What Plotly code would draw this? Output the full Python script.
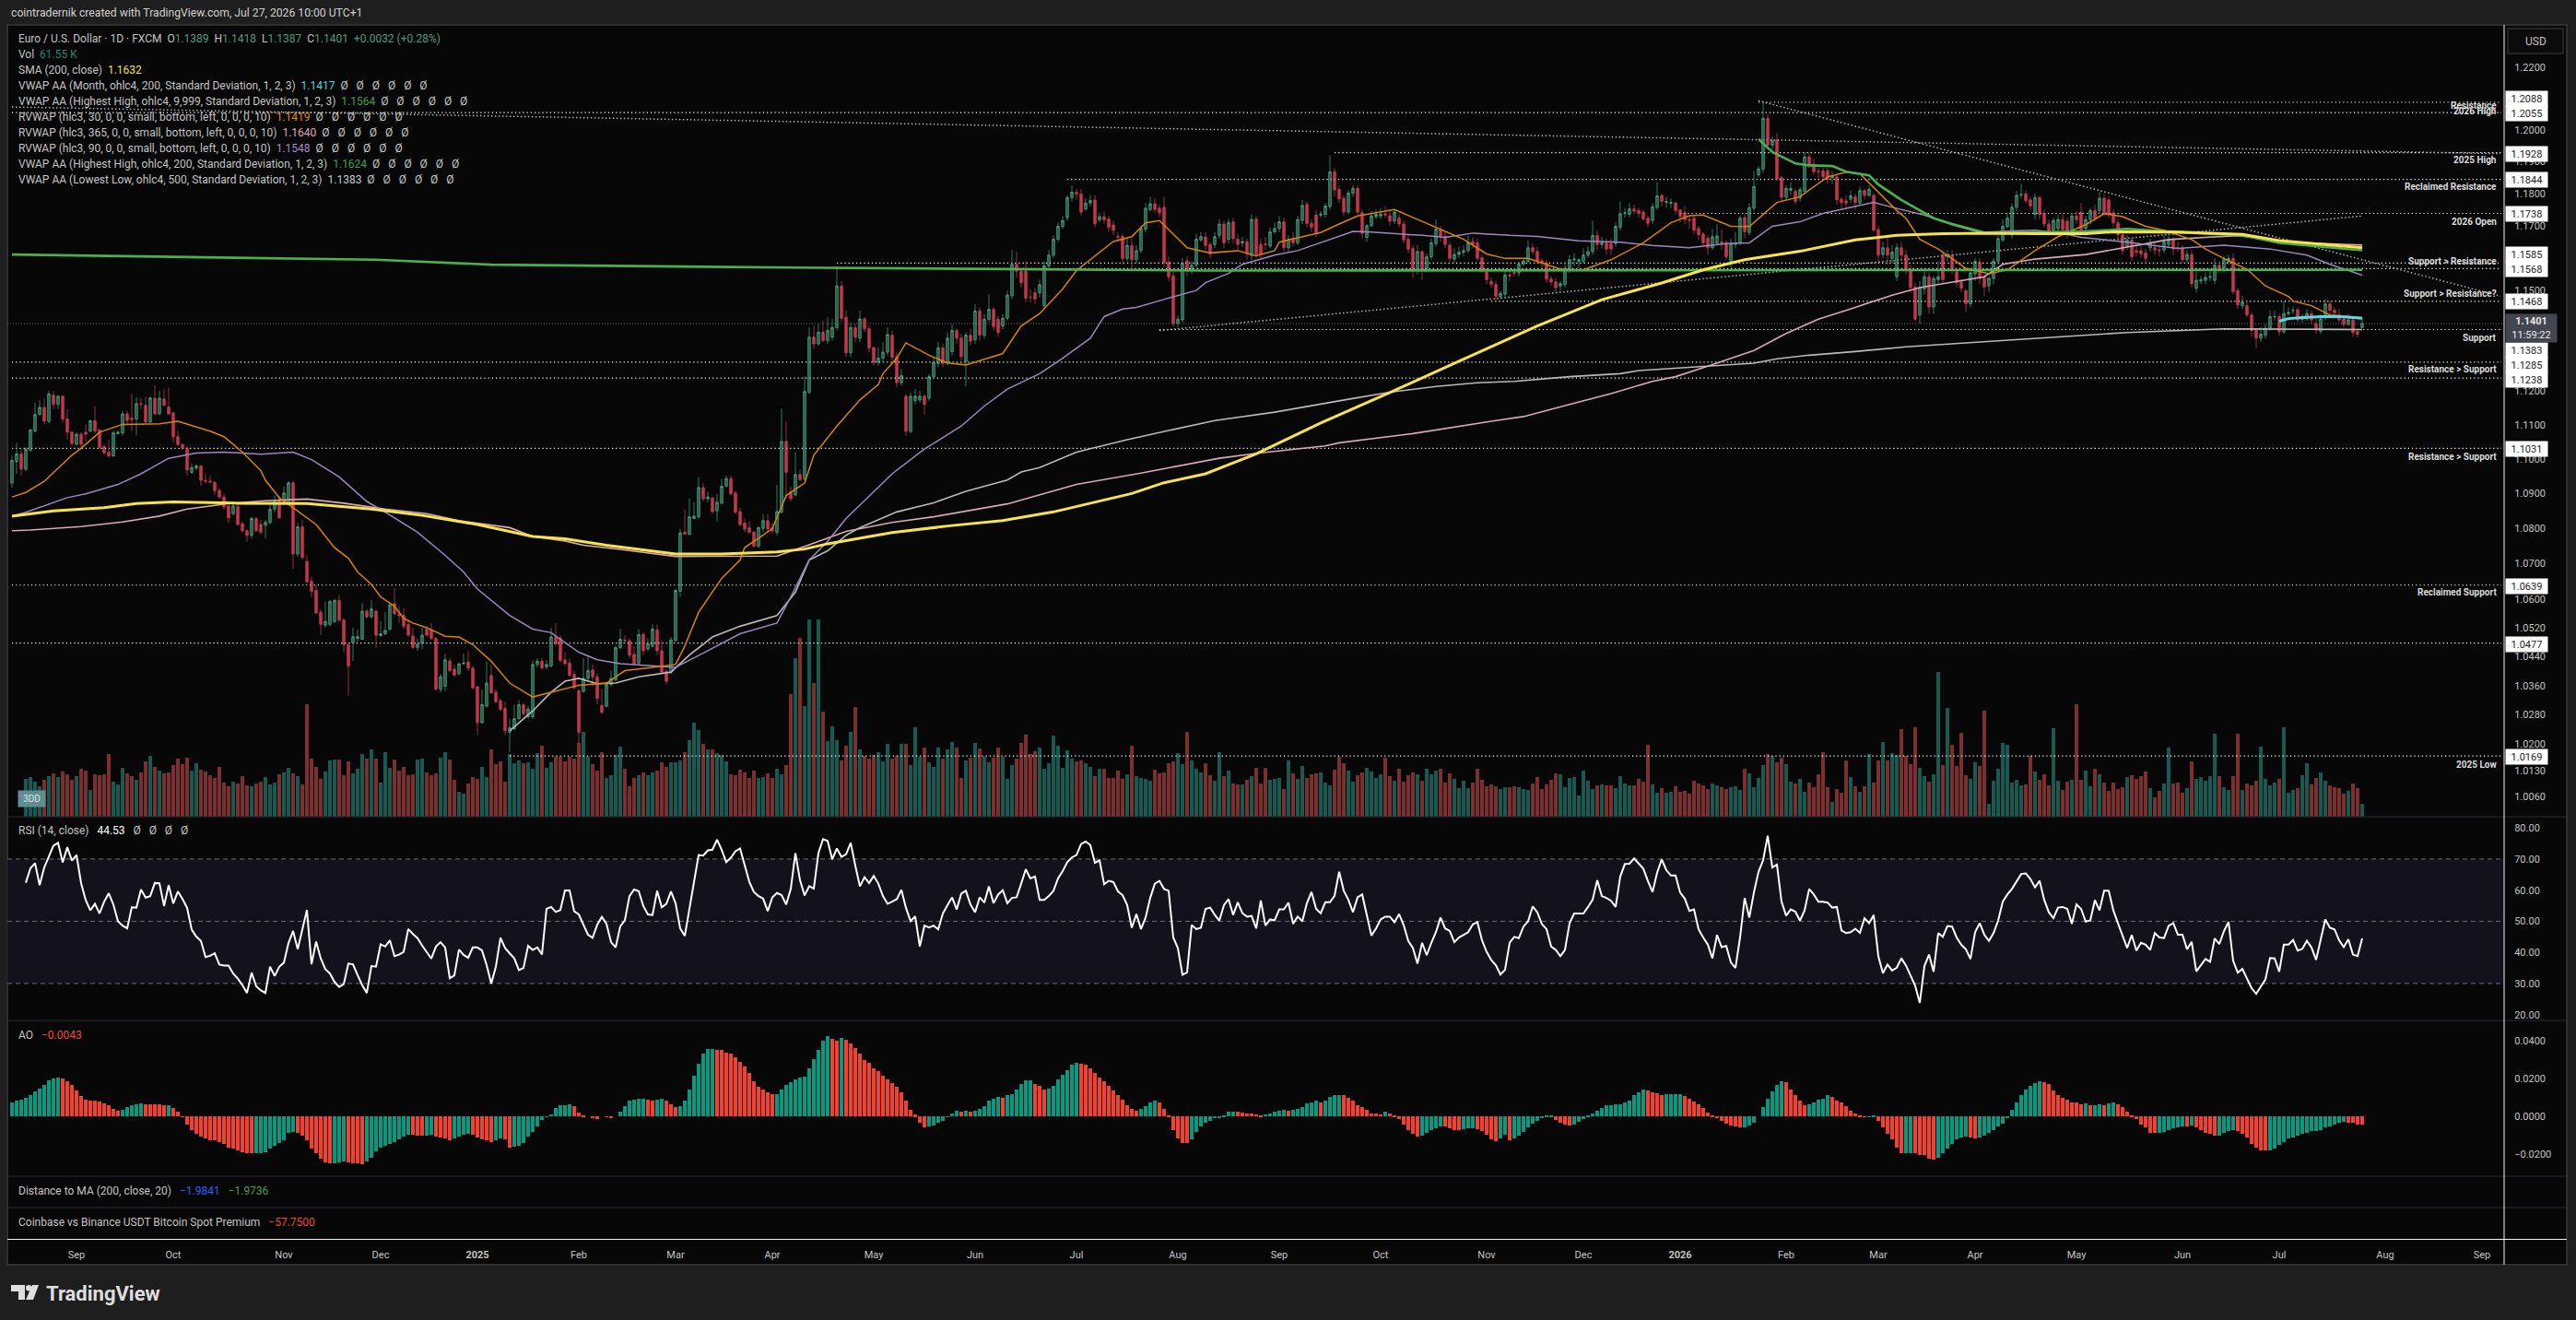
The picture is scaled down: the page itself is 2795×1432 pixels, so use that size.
import math
import plotly.graph_objects as go

W, H = 2795, 1432

opens = [
    1.0930,1.0993,1.1015,1.0970,1.1025,1.1081,1.1130,1.1151,1.1110,1.1187,
    1.1160,1.1184,1.1117,1.1078,1.1043,1.1072,1.1078,1.1081,1.1112,1.1085,
    1.1036,1.1020,1.1009,1.1074,1.1076,1.1132,1.1119,1.1117,1.1162,1.1157,
    1.1108,1.1178,1.1132,1.1176,1.1152,1.1135,1.1065,1.1042,1.1031,1.0961,
    1.0973,1.0980,1.0938,1.0935,1.0932,1.0909,1.0890,1.0864,1.0842,1.0862,
    1.0813,1.0793,1.0780,1.0828,1.0811,1.0809,1.0817,1.0855,1.0883,1.0872,
    1.0874,1.0931,1.0727,1.0804,1.0706,1.0650,1.0624,1.0563,1.0527,1.0529,
    1.0537,1.0596,1.0541,1.0473,1.0478,1.0490,1.0488,1.0566,1.0550,1.0566,
    1.0498,1.0503,1.0516,1.0587,1.0557,1.0554,1.0529,1.0497,1.0465,1.0476,
    1.0516,1.0514,1.0490,1.0350,1.0358,1.0428,1.0405,1.0393,1.0420,1.0425,
    1.0408,1.0357,1.0259,1.0304,1.0388,1.0342,1.0319,1.0298,1.0233,1.0243,
    1.0270,1.0308,1.0275,1.0275,1.0418,1.0427,1.0411,1.0414,1.0494,1.0491,
    1.0431,1.0422,1.0391,1.0346,1.0344,1.0380,1.0403,1.0384,1.0306,1.0304,
    1.0363,1.0376,1.0465,1.0486,1.0484,1.0446,1.0422,1.0501,1.0461,1.0468,
    1.0514,1.0456,1.0399,1.0397,1.0484,1.0622,1.0789,1.0783,1.0828,1.0833,
    1.0917,1.0885,1.0887,1.0850,1.0872,1.0921,1.0943,1.0901,1.0848,1.0815,
    1.0802,1.0789,1.0749,1.0800,1.0822,1.0802,1.0789,1.0846,1.1051,1.0905,
    1.0896,1.0955,1.0942,1.1196,1.1360,1.1340,1.1375,1.1350,1.1360,1.1389,
    1.1515,1.1420,1.1313,1.1389,1.1357,1.1415,1.1385,1.1329,1.1285,1.1297,
    1.1315,1.1366,1.1302,1.1224,1.1184,1.1081,1.1171,1.1173,1.1184,1.1178,
    1.1242,1.1281,1.1328,1.1283,1.1316,1.1380,1.1357,1.1288,1.1366,1.1352,
    1.1439,1.1366,1.1414,1.1444,1.1414,1.1394,1.1417,1.1485,1.1581,1.1560,
    1.1560,1.1481,1.1494,1.1494,1.1455,1.1576,1.1609,1.1658,1.1698,1.1725,
    1.1787,1.1804,1.1798,1.1752,1.1770,1.1780,1.1718,1.1728,1.1721,1.1702,
    1.1667,1.1667,1.1599,1.1639,1.1595,1.1623,1.1689,1.1750,1.1768,1.1754,
    1.1757,1.1587,1.1546,1.1401,1.1412,1.1592,1.1566,1.1578,1.1656,1.1665,
    1.1642,1.1642,1.1670,1.1705,1.1658,1.1712,1.1658,1.1647,1.1650,1.1608,
    1.1721,1.1642,1.1644,1.1637,1.1681,1.1691,1.1712,1.1632,1.1661,1.1647,
    1.1716,1.1766,1.1707,1.1733,1.1733,1.1735,1.1759,1.1868,1.1813,1.1785,
    1.1742,1.1801,1.1816,1.1740,1.1664,1.1700,1.1728,1.1730,1.1737,1.1731,
    1.1714,1.1724,1.1705,1.1658,1.1630,1.1564,1.1620,1.1569,1.1604,1.1645,
    1.1689,1.1667,1.1640,1.1597,1.1611,1.1618,1.1623,1.1651,1.1647,1.1601,
    1.1566,1.1529,1.1520,1.1483,1.1490,1.1548,1.1557,1.1555,1.1582,1.1590,
    1.1632,1.1620,1.1592,1.1585,1.1536,1.1527,1.1515,1.1520,1.1566,1.1595,
    1.1590,1.1590,1.1609,1.1620,1.1670,1.1642,1.1647,1.1645,1.1645,1.1695,
    1.1738,1.1735,1.1752,1.1747,1.1742,1.1723,1.1716,1.1757,1.1794,1.1772,
    1.1769,1.1770,1.1749,1.1740,1.1719,1.1723,1.1691,1.1674,1.1661,1.1632,
    1.1647,1.1650,1.1647,1.1590,1.1642,1.1647,1.1725,1.1679,1.1754,1.1858,
    1.1876,1.2037,1.1952,1.1969,1.1850,1.1788,1.1810,1.1807,1.1785,1.1807,
    1.1915,1.1892,1.1870,1.1871,1.1871,1.1849,1.1852,1.1782,1.1777,1.1782,
    1.1790,1.1770,1.1809,1.1794,1.1794,1.1688,1.1611,1.1632,1.1599,1.1543,
    1.1632,1.1609,1.1566,1.1512,1.1427,1.1506,1.1543,1.1451,1.1534,1.1611,
    1.1604,1.1609,1.1559,1.1527,1.1501,1.1461,1.1552,1.1588,1.1540,1.1515,
    1.1538,1.1590,1.1656,1.1698,1.1672,1.1757,1.1795,1.1799,1.1780,1.1735,
    1.1788,1.1738,1.1705,1.1686,1.1691,1.1719,1.1714,1.1686,1.1730,1.1742,
    1.1691,1.1719,1.1747,1.1747,1.1785,1.1780,1.1740,1.1709,1.1672,1.1637,
    1.1656,1.1623,1.1623,1.1616,1.1632,1.1632,1.1625,1.1625,1.1642,1.1656,
    1.1632,1.1632,1.1595,1.1611,1.1508,1.1530,1.1532,1.1541,1.1532,1.1578,
    1.1569,1.1588,1.1599,1.1501,1.1455,1.1455,1.1427,1.1382,1.1357,1.1366,
    1.1387,1.1421,1.1422,1.1376,1.1431,1.1440,1.1443,1.1414,1.1415,1.1431,
    1.1401,1.1378,1.1419,1.1460,1.1441,1.1427,1.1415,1.1398,1.1412,1.1377,1.1389,
]
closes = [
    1.0996,1.1015,1.0970,1.1029,1.1085,1.1130,1.1151,1.1110,1.1191,1.1160,
    1.1184,1.1117,1.1078,1.1045,1.1072,1.1043,1.1072,1.1112,1.1081,1.1033,
    1.1018,1.1009,1.1076,1.1078,1.1132,1.1112,1.1115,1.1162,1.1160,1.1108,
    1.1179,1.1132,1.1178,1.1157,1.1132,1.1065,1.1042,1.1031,1.0968,1.0975,
    1.0980,1.0938,1.0935,1.0933,1.0908,1.0890,1.0861,1.0830,1.0864,1.0811,
    1.0793,1.0780,1.0828,1.0793,1.0789,1.0817,1.0855,1.0877,1.0830,1.0901,
    1.0931,1.0727,1.0804,1.0717,1.0648,1.0622,1.0561,1.0529,1.0537,1.0593,
    1.0596,1.0541,1.0473,1.0414,1.0495,1.0495,1.0566,1.0550,1.0572,1.0499,
    1.0503,1.0512,1.0584,1.0559,1.0554,1.0524,1.0499,1.0465,1.0474,1.0499,
    1.0499,1.0490,1.0350,1.0384,1.0431,1.0401,1.0389,1.0420,1.0422,1.0408,
    1.0354,1.0259,1.0308,1.0367,1.0340,1.0316,1.0295,1.0237,1.0245,1.0270,
    1.0308,1.0283,1.0296,1.0418,1.0427,1.0408,1.0418,1.0494,1.0476,1.0429,
    1.0420,1.0388,1.0354,1.0233,1.0380,1.0401,1.0384,1.0325,1.0287,1.0363,
    1.0380,1.0465,1.0488,1.0484,1.0444,1.0420,1.0501,1.0456,1.0476,1.0516,
    1.0456,1.0397,1.0372,1.0486,1.0624,1.0787,1.0783,1.0833,1.0835,1.0917,
    1.0885,1.0890,1.0848,1.0875,1.0921,1.0943,1.0899,1.0846,1.0811,1.0798,
    1.0789,1.0749,1.0802,1.0822,1.0798,1.0793,1.0848,1.1051,1.0961,1.0885,
    1.0955,1.0940,1.1198,1.1360,1.1340,1.1375,1.1350,1.1380,1.1389,1.1515,
    1.1417,1.1313,1.1389,1.1360,1.1415,1.1385,1.1327,1.1285,1.1297,1.1315,
    1.1368,1.1300,1.1224,1.1245,1.1081,1.1184,1.1184,1.1184,1.1160,1.1242,
    1.1285,1.1328,1.1281,1.1357,1.1380,1.1357,1.1302,1.1366,1.1348,1.1439,
    1.1366,1.1414,1.1444,1.1392,1.1374,1.1417,1.1487,1.1581,1.1560,1.1525,
    1.1478,1.1480,1.1475,1.1519,1.1576,1.1609,1.1658,1.1698,1.1716,1.1787,
    1.1804,1.1798,1.1742,1.1770,1.1778,1.1706,1.1728,1.1718,1.1695,1.1686,
    1.1664,1.1599,1.1639,1.1595,1.1623,1.1691,1.1754,1.1768,1.1750,1.1740,
    1.1585,1.1543,1.1401,1.1414,1.1585,1.1564,1.1578,1.1658,1.1666,1.1639,
    1.1613,1.1666,1.1705,1.1647,1.1709,1.1660,1.1642,1.1651,1.1613,1.1719,
    1.1613,1.1613,1.1642,1.1681,1.1691,1.1712,1.1632,1.1658,1.1647,1.1719,
    1.1763,1.1707,1.1695,1.1676,1.1736,1.1761,1.1868,1.1811,1.1783,1.1742,
    1.1801,1.1816,1.1742,1.1676,1.1700,1.1730,1.1735,1.1736,1.1733,1.1714,
    1.1742,1.1705,1.1656,1.1628,1.1562,1.1620,1.1566,1.1604,1.1647,1.1689,
    1.1667,1.1642,1.1599,1.1611,1.1618,1.1623,1.1647,1.1642,1.1599,1.1564,
    1.1534,1.1520,1.1483,1.1492,1.1548,1.1546,1.1553,1.1582,1.1592,1.1632,
    1.1620,1.1592,1.1585,1.1536,1.1527,1.1510,1.1522,1.1569,1.1595,1.1597,
    1.1595,1.1609,1.1620,1.1670,1.1642,1.1647,1.1628,1.1628,1.1698,1.1737,
    1.1740,1.1752,1.1745,1.1738,1.1721,1.1707,1.1759,1.1792,1.1775,1.1775,
    1.1772,1.1747,1.1728,1.1719,1.1716,1.1686,1.1672,1.1647,1.1632,1.1666,
    1.1668,1.1647,1.1604,1.1645,1.1647,1.1723,1.1681,1.1756,1.1822,1.1877,
    1.2037,1.1952,1.1966,1.1846,1.1788,1.1816,1.1816,1.1775,1.1812,1.1915,
    1.1888,1.1868,1.1868,1.1852,1.1845,1.1855,1.1780,1.1772,1.1770,1.1793,
    1.1772,1.1809,1.1794,1.1813,1.1686,1.1609,1.1632,1.1609,1.1618,1.1632,
    1.1609,1.1566,1.1510,1.1414,1.1510,1.1543,1.1451,1.1538,1.1543,1.1534,
    1.1611,1.1562,1.1525,1.1508,1.1461,1.1555,1.1590,1.1538,1.1512,1.1538,
    1.1590,1.1660,1.1698,1.1723,1.1757,1.1794,1.1797,1.1778,1.1761,1.1787,
    1.1735,1.1705,1.1679,1.1716,1.1719,1.1688,1.1674,1.1730,1.1719,1.1686,
    1.1719,1.1747,1.1723,1.1785,1.1740,1.1737,1.1709,1.1672,1.1623,1.1656,
    1.1604,1.1618,1.1613,1.1599,1.1647,1.1625,1.1623,1.1649,1.1656,1.1628,
    1.1630,1.1595,1.1611,1.1522,1.1532,1.1534,1.1541,1.1543,1.1578,1.1566,
    1.1597,1.1599,1.1498,1.1457,1.1466,1.1427,1.1380,1.1357,1.1369,1.1387,
    1.1422,1.1422,1.1376,1.1431,1.1434,1.1441,1.1412,1.1415,1.1431,1.1412,
    1.1382,1.1415,1.1460,1.1441,1.1434,1.1412,1.1398,1.1412,1.1374,1.1369,1.1401,
]
highs = [
    1.1011,1.1047,1.1029,1.1033,1.1087,1.1165,1.1173,1.1178,1.1200,1.1200,
    1.1187,1.1187,1.1146,1.1080,1.1078,1.1078,1.1101,1.1114,1.1155,1.1087,
    1.1042,1.1056,1.1083,1.1083,1.1141,1.1141,1.1191,1.1182,1.1178,1.1182,
    1.1182,1.1216,1.1200,1.1205,1.1210,1.1137,1.1083,1.1045,1.1038,1.0988,
    1.0985,1.0982,1.0957,1.0953,1.0935,1.0916,1.0899,1.0877,1.0877,1.0873,
    1.0820,1.0798,1.0833,1.0833,1.0824,1.0824,1.0877,1.0894,1.0894,1.0920,
    1.0935,1.0935,1.0815,1.0824,1.0723,1.0663,1.0641,1.0572,1.0593,1.0598,
    1.0600,1.0611,1.0546,1.0478,1.0520,1.0515,1.0589,1.0572,1.0598,1.0572,
    1.0538,1.0563,1.0589,1.0630,1.0580,1.0575,1.0542,1.0520,1.0490,1.0520,
    1.0525,1.0533,1.0495,1.0392,1.0448,1.0435,1.0418,1.0422,1.0448,1.0456,
    1.0414,1.0358,1.0350,1.0426,1.0418,1.0350,1.0325,1.0316,1.0270,1.0308,
    1.0320,1.0314,1.0305,1.0430,1.0435,1.0435,1.0430,1.0520,1.0533,1.0499,
    1.0452,1.0435,1.0401,1.0350,1.0435,1.0443,1.0418,1.0393,1.0350,1.0367,
    1.0401,1.0469,1.0516,1.0499,1.0490,1.0469,1.0516,1.0507,1.0490,1.0529,
    1.0529,1.0486,1.0405,1.0494,1.0628,1.0798,1.0853,1.0886,1.0874,1.0948,
    1.0930,1.0905,1.0890,1.0899,1.0943,1.0952,1.0952,1.0908,1.0859,1.0828,
    1.0820,1.0793,1.0806,1.0841,1.0841,1.0815,1.0925,1.1147,1.1110,1.0920,
    1.1020,1.0970,1.1243,1.1390,1.1395,1.1400,1.1410,1.1420,1.1415,1.1575,
    1.1530,1.1440,1.1405,1.1400,1.1440,1.1420,1.1395,1.1330,1.1330,1.1345,
    1.1390,1.1380,1.1312,1.1265,1.1190,1.1195,1.1205,1.1200,1.1190,1.1250,
    1.1300,1.1345,1.1340,1.1375,1.1400,1.1385,1.1370,1.1375,1.1385,1.1460,
    1.1450,1.1430,1.1490,1.1450,1.1425,1.1430,1.1500,1.1625,1.1620,1.1570,
    1.1590,1.1505,1.1510,1.1535,1.1590,1.1625,1.1670,1.1710,1.1730,1.1795,
    1.1825,1.1815,1.1815,1.1785,1.1795,1.1795,1.1740,1.1745,1.1730,1.1715,
    1.1680,1.1675,1.1665,1.1660,1.1640,1.1700,1.1770,1.1790,1.1785,1.1765,
    1.1790,1.1605,1.1560,1.1425,1.1600,1.1605,1.1590,1.1675,1.1680,1.1680,
    1.1650,1.1680,1.1720,1.1715,1.1720,1.1725,1.1675,1.1665,1.1660,1.1735,
    1.1730,1.1660,1.1665,1.1695,1.1710,1.1730,1.1725,1.1670,1.1680,1.1730,
    1.1780,1.1775,1.1720,1.1750,1.1745,1.1770,1.1920,1.1880,1.1825,1.1795,
    1.1810,1.1825,1.1825,1.1750,1.1705,1.1745,1.1750,1.1755,1.1760,1.1750,
    1.1750,1.1735,1.1715,1.1670,1.1640,1.1640,1.1625,1.1615,1.1660,1.1720,
    1.1700,1.1680,1.1650,1.1630,1.1635,1.1640,1.1670,1.1665,1.1660,1.1610,
    1.1570,1.1540,1.1530,1.1500,1.1560,1.1565,1.1570,1.1590,1.1600,1.1655,
    1.1645,1.1635,1.1600,1.1595,1.1545,1.1540,1.1530,1.1590,1.1610,1.1615,
    1.1600,1.1630,1.1635,1.1715,1.1685,1.1665,1.1660,1.1660,1.1710,1.1775,
    1.1755,1.1770,1.1765,1.1755,1.1750,1.1730,1.1770,1.1835,1.1800,1.1790,
    1.1785,1.1775,1.1750,1.1760,1.1730,1.1730,1.1700,1.1680,1.1670,1.1690,
    1.1705,1.1690,1.1655,1.1660,1.1680,1.1730,1.1735,1.1770,1.1870,1.1885,
    1.2088,1.2050,1.1980,1.1990,1.1855,1.1825,1.1835,1.1815,1.1820,1.1930,
    1.1930,1.1910,1.1880,1.1880,1.1880,1.1870,1.1860,1.1790,1.1795,1.1810,
    1.1800,1.1820,1.1815,1.1825,1.1800,1.1700,1.1650,1.1670,1.1640,1.1645,
    1.1650,1.1625,1.1580,1.1525,1.1530,1.1560,1.1555,1.1545,1.1590,1.1620,
    1.1625,1.1625,1.1570,1.1535,1.1505,1.1565,1.1600,1.1600,1.1550,1.1540,
    1.1600,1.1670,1.1720,1.1740,1.1770,1.1808,1.1830,1.1810,1.1790,1.1800,
    1.1790,1.1750,1.1720,1.1725,1.1735,1.1740,1.1725,1.1740,1.1745,1.1770,
    1.1730,1.1755,1.1765,1.1805,1.1800,1.1790,1.1750,1.1720,1.1690,1.1670,
    1.1665,1.1640,1.1640,1.1630,1.1660,1.1650,1.1640,1.1670,1.1675,1.1665,
    1.1650,1.1640,1.1625,1.1625,1.1560,1.1545,1.1555,1.1560,1.1600,1.1590,
    1.1605,1.1610,1.1615,1.1510,1.1485,1.1470,1.1435,1.1385,1.1390,1.1400,
    1.1440,1.1440,1.1430,1.1470,1.1450,1.1452,1.1450,1.1430,1.1445,1.1440,
    1.1420,1.1430,1.1475,1.1470,1.1450,1.1445,1.1425,1.1430,1.1420,1.1385,1.1418,
]
lows = [
    1.0917,1.0957,1.0952,1.0965,1.1022,1.1078,1.1128,1.1101,1.1105,1.1146,
    1.1146,1.1105,1.1056,1.1038,1.1038,1.1033,1.1051,1.1078,1.1076,1.1029,
    1.1011,1.1004,1.1006,1.1072,1.1069,1.1101,1.1081,1.1069,1.1146,1.1105,
    1.1105,1.1128,1.1128,1.1155,1.1128,1.1047,1.1038,1.1027,1.0952,1.0957,
    1.0968,1.0922,1.0930,1.0931,1.0895,1.0885,1.0855,1.0815,1.0838,1.0807,
    1.0787,1.0762,1.0771,1.0789,1.0784,1.0771,1.0811,1.0846,1.0828,1.0868,
    1.0872,1.0684,1.0719,1.0710,1.0645,1.0606,1.0558,1.0499,1.0520,1.0525,
    1.0533,1.0537,1.0452,1.0333,1.0427,1.0480,1.0486,1.0546,1.0546,1.0463,
    1.0495,1.0499,1.0512,1.0555,1.0533,1.0516,1.0495,1.0461,1.0455,1.0461,
    1.0495,1.0486,1.0346,1.0341,1.0346,1.0397,1.0384,1.0388,1.0418,1.0401,
    1.0350,1.0225,1.0256,1.0300,1.0338,1.0312,1.0291,1.0225,1.0179,1.0237,
    1.0266,1.0275,1.0270,1.0270,1.0410,1.0405,1.0405,1.0410,1.0470,1.0422,
    1.0418,1.0384,1.0350,1.0199,1.0341,1.0374,1.0358,1.0308,1.0283,1.0300,
    1.0358,1.0372,1.0461,1.0478,1.0435,1.0416,1.0418,1.0444,1.0455,1.0465,
    1.0444,1.0392,1.0363,1.0392,1.0482,1.0606,1.0782,1.0780,1.0826,1.0828,
    1.0877,1.0875,1.0842,1.0820,1.0868,1.0917,1.0894,1.0842,1.0806,1.0789,
    1.0784,1.0745,1.0745,1.0789,1.0789,1.0785,1.0780,1.0842,1.0887,1.0877,
    1.0892,1.0935,1.0938,1.1190,1.1325,1.1335,1.1345,1.1340,1.1350,1.1380,
    1.1405,1.1300,1.1300,1.1345,1.1345,1.1375,1.1315,1.1275,1.1275,1.1285,
    1.1305,1.1290,1.1210,1.1215,1.1067,1.1075,1.1160,1.1165,1.1130,1.1170,
    1.1235,1.1270,1.1270,1.1275,1.1305,1.1340,1.1290,1.1213,1.1335,1.1340,
    1.1350,1.1355,1.1405,1.1380,1.1360,1.1385,1.1410,1.1475,1.1540,1.1510,
    1.1465,1.1465,1.1460,1.1480,1.1445,1.1565,1.1600,1.1650,1.1690,1.1715,
    1.1775,1.1780,1.1730,1.1745,1.1760,1.1695,1.1710,1.1705,1.1680,1.1670,
    1.1650,1.1580,1.1590,1.1565,1.1585,1.1615,1.1680,1.1745,1.1740,1.1725,
    1.1575,1.1530,1.1392,1.1392,1.1405,1.1545,1.1550,1.1570,1.1650,1.1625,
    1.1600,1.1630,1.1660,1.1630,1.1645,1.1645,1.1625,1.1635,1.1595,1.1595,
    1.1600,1.1600,1.1625,1.1630,1.1675,1.1680,1.1620,1.1620,1.1635,1.1640,
    1.1705,1.1695,1.1680,1.1665,1.1725,1.1725,1.1750,1.1790,1.1770,1.1730,
    1.1735,1.1790,1.1735,1.1660,1.1650,1.1695,1.1720,1.1722,1.1725,1.1700,
    1.1705,1.1695,1.1645,1.1615,1.1540,1.1550,1.1535,1.1555,1.1595,1.1635,
    1.1650,1.1630,1.1590,1.1585,1.1600,1.1605,1.1615,1.1630,1.1590,1.1555,
    1.1520,1.1510,1.1470,1.1475,1.1480,1.1530,1.1545,1.1545,1.1575,1.1585,
    1.1610,1.1585,1.1570,1.1525,1.1515,1.1495,1.1500,1.1510,1.1555,1.1575,
    1.1570,1.1585,1.1600,1.1610,1.1625,1.1630,1.1610,1.1610,1.1635,1.1685,
    1.1725,1.1725,1.1735,1.1725,1.1715,1.1695,1.1705,1.1750,1.1760,1.1755,
    1.1755,1.1735,1.1710,1.1705,1.1690,1.1675,1.1655,1.1635,1.1610,1.1625,
    1.1640,1.1625,1.1595,1.1570,1.1630,1.1640,1.1660,1.1670,1.1745,1.1850,
    1.1865,1.1945,1.1930,1.1840,1.1775,1.1780,1.1795,1.1765,1.1775,1.1800,
    1.1880,1.1860,1.1845,1.1840,1.1830,1.1830,1.1765,1.1755,1.1750,1.1770,
    1.1750,1.1765,1.1780,1.1790,1.1680,1.1590,1.1600,1.1580,1.1585,1.1530,
    1.1595,1.1550,1.1495,1.1410,1.1400,1.1490,1.1430,1.1430,1.1520,1.1520,
    1.1590,1.1550,1.1510,1.1495,1.1435,1.1450,1.1530,1.1520,1.1485,1.1495,
    1.1520,1.1580,1.1650,1.1690,1.1660,1.1745,1.1785,1.1770,1.1750,1.1720,
    1.1720,1.1695,1.1670,1.1670,1.1680,1.1680,1.1660,1.1675,1.1705,1.1675,
    1.1675,1.1705,1.1715,1.1735,1.1730,1.1725,1.1695,1.1660,1.1610,1.1625,
    1.1590,1.1605,1.1600,1.1585,1.1620,1.1610,1.1605,1.1615,1.1630,1.1610,
    1.1620,1.1585,1.1585,1.1510,1.1495,1.1520,1.1520,1.1530,1.1520,1.1555,
    1.1555,1.1580,1.1490,1.1445,1.1445,1.1420,1.1360,1.1327,1.1345,1.1355,
    1.1380,1.1410,1.1365,1.1370,1.1425,1.1430,1.1405,1.1405,1.1410,1.1400,
    1.1370,1.1370,1.1410,1.1430,1.1425,1.1405,1.1390,1.1395,1.1360,1.1360,1.1387,
]

# volume in thousands
volume = [
    181,190,168,146,176,194,207,190,216,203,176,194,229,220,128,203,198,203,300,168,
    154,234,207,194,176,212,265,291,238,220,207,212,247,278,251,282,220,256,225,216,
    198,185,238,163,146,168,159,194,150,146,159,168,190,154,163,203,212,234,207,194,
    154,537,278,238,181,216,269,273,273,198,265,207,229,300,278,322,278,163,309,234,
    273,220,238,198,203,273,278,212,198,207,282,309,273,176,119,110,159,190,181,238,
    190,322,251,265,168,300,256,269,256,260,229,304,340,234,260,287,287,265,287,278,
    353,405,287,251,220,309,185,198,295,335,229,146,185,198,212,
    199,211,219,259,236,259,259,267,308,365,449,413,348,322,320,303,296,264,202,197,
    224,211,185,219,185,188,205,185,228,202,247,586,757,853,527,942,637,942,502,360,
    431,365,267,339,404,524,320,291,279,296,308,264,348,277,291,348,348,247,425,288,
    329,259,236,329,277,320,356,332,185,270,281,351,325,288,259,281,329,288,180,247,
    277,351,390,300,312,329,228,255,387,339,233,317,277,264,267,255,236,193,228,228,
    185,185,219,180,202,339,193,185,180,171,224,205,211,255,264,303,250,404,267,228,
    211,255,197,171,308,193,219,157,154,154,175,193,233,157,233,175,180,185,132,267,
    205,180,241,185,202,205,211,161,149,224,286,255,219,166,197,211,233,216,185,202,
    281,193,171,228,166,197,211,202,171,228,202,219,228,161,205,180,135,171,135,161,
    228,175,146,154,144,132,140,
    142,144,140,132,127,157,188,132,154,175,205,202,140,185,188,101,219,171,132,149,
    154,149,149,137,193,157,149,149,180,166,342,154,113,135,113,118,144,118,123,110,
    171,157,149,132,157,149,140,132,140,144,127,228,205,140,185,247,298,289,259,281,
    250,166,157,180,118,163,140,202,308,140,70,132,113,267,188,144,118,144,298,163,
    267,356,267,303,294,418,289,250,426,233,193,166,202,690,247,519,342,241,401,197,
    180,259,241,505,62,171,228,351,342,163,175,149,154,289,216,175,202,149,421,171,
    127,166,175,536,175,219,144,228,202,163,123,163,132,140,188,197,180,193,216,135,
    92,123,157,329,157,163,113,135,264,180,188,171,193,395,193,140,127,193,395,127,
    157,149,171,334,180,149,163,180,426,113,127,135,197,255,154,185,211,171,149,140,
    135,110,123,157,135,62,
]

rsi = [
    62.4,67.0,68.7,61.6,67.3,71.1,74.3,75.2,68.9,73.8,69.5,71.3,62.2,56.8,53.5,55.6,52.5,56.3,59.0,55.4,
    50.0,48.6,47.7,54.5,54.4,60.2,57.6,58.1,62.3,62.2,54.9,61.6,55.7,59.6,57.2,54.3,47.3,45.1,43.7,38.5,
    38.9,39.7,36.1,35.8,35.8,33.2,31.6,29.5,27.0,33.5,29.1,27.8,27.0,35.4,32.4,35.4,36.7,43.0,46.9,41.0,
    47.3,53.6,36.2,43.5,38.1,34.6,33.2,30.5,28.9,29.8,36.4,36.2,32.7,29.5,27.0,35.6,35.4,42.6,41.9,43.9,
    38.8,39.3,40.2,47.5,45.9,44.6,42.2,39.9,38.0,41.9,43.3,41.6,31.7,32.6,40.9,39.2,38.3,41.6,41.6,40.6,
    35.9,30.0,35.4,44.7,41.4,39.7,38.1,34.3,35.0,42.1,40.8,41.6,39.3,54.0,54.6,53.0,53.6,59.9,59.9,53.2,
    52.2,48.9,45.7,44.7,48.9,51.4,49.2,43.3,41.6,48.4,50.3,58.1,60.2,59.7,54.9,52.2,
    52.0,59.8,54.5,55.6,59.6,55.8,47.7,45.3,54.0,63.8,71.3,71.1,72.8,73.0,76.2,73.0,69.0,70.4,72.5,73.4,
    68.4,62.7,59.4,58.1,57.3,53.3,57.7,59.1,58.4,55.4,60.4,71.9,63.2,58.3,61.3,60.5,71.9,76.4,75.8,69.9,
    73.4,70.7,71.5,75.2,67.9,61.2,64.2,62.3,64.6,62.1,58.1,55.6,56.3,57.1,60.1,54.3,50.0,51.6,41.9,48.6,
    48.0,48.6,47.4,52.5,55.2,57.7,53.8,58.9,59.8,55.4,52.9,57.7,56.0,61.2,55.8,58.6,60.0,55.8,57.5,57.7,
    62.1,66.7,63.8,64.4,56.9,56.9,58.1,59.8,63.8,66.1,69.0,70.5,71.3,74.8,75.6,74.5,68.8,69.6,61.9,63.0,
    62.6,59.6,58.4,55.2,47.9,52.3,47.5,51.2,57.5,62.1,63.0,60.4,59.8,44.8,41.4,32.8,33.6,48.8,47.5,47.9,
    54.0,54.4,52.1,50.2,55.2,57.1,52.0,56.1,52.6,51.5,51.7,47.7,56.7,48.6,50.6,50.3,53.8,53.8,56.0,49.2,
    51.5,50.0,55.8,59.4,54.0,52.6,56.1,56.1,58.2,65.9,59.8,56.9,52.9,57.7,58.6,51.7,45.4,47.7,50.6,51.5,
    51.5,49.7,52.3,48.8,43.7,41.4,36.4,43.1,39.1,43.1,46.5,51.2,47.7,46.9,43.3,44.8,45.7,46.5,49.0,49.7,
    43.9,40.2,37.6,35.9,32.9,34.4,
    43.1,45.0,44.6,48.3,50.0,54.8,52.9,49.1,47.5,41.9,40.8,38.8,40.8,49.4,52.5,52.5,52.5,54.6,56.9,63.2,
    58.1,57.5,56.6,54.6,64.4,68.4,68.5,70.2,68.4,66.9,62.9,59.4,65.6,69.9,66.4,64.7,64.7,59.2,57.3,53.3,
    53.8,47.4,44.8,42.5,38.1,45.6,41.7,42.1,36.8,35.0,44.8,57.5,51.2,59.2,65.9,69.6,77.5,67.3,68.2,56.3,
    51.8,53.8,53.1,50.2,53.5,60.4,58.6,56.3,56.3,56.0,54.4,54.6,47.1,46.2,46.5,47.6,46.3,51.0,49.4,52.0,
    38.8,33.3,36.1,34.2,35.1,38.1,35.8,32.4,29.3,23.8,35.6,39.3,33.8,46.2,45.0,48.5,48.3,44.8,42.5,41.0,
    37.9,46.5,49.4,45.7,43.7,46.2,50.2,56.3,58.6,60.4,62.7,65.2,65.4,63.6,60.9,63.0,56.9,52.9,51.0,54.4,
    54.6,54.0,49.2,55.4,54.0,49.9,50.3,56.8,53.5,59.8,59.8,53.5,49.4,45.4,41.4,45.6,40.6,43.1,42.5,40.8,
    46.2,44.8,44.6,48.5,49.4,45.7,45.7,41.0,43.4,33.9,35.9,37.9,37.0,44.5,42.7,46.8,49.8,37.3,33.5,34.7,
    31.6,28.5,26.7,28.9,31.3,38.2,38.1,33.8,42.5,42.5,44.0,40.6,41.1,43.7,41.6,37.6,44.2,50.6,47.9,47.4,
    43.9,41.7,44.2,39.3,38.8,44.53,
]

ao = [
    .0075,.0082,.0091,.0098,.0115,.0132,.0149,.0168,.0193,.0200,.0208,.0202,.0188,.0168,.0140,.0109,.0091,.0084,.0082,.0079,
    .0068,.0059,.0038,.0030,.0036,.0047,.0057,.0066,.0070,.0066,.0064,.0063,.0062,.0057,.0059,.0045,.0023,-.0003,-.0045,-.0075,
    -.0095,-.0106,-.0120,-.0125,-.0129,-.0138,-.0147,-.0165,-.0174,-.0183,-.0192,-.0195,-.0196,-.0195,-.0194,-.0192,-.0174,-.0156,-.0143,-.0129,
    -.0088,-.0084,-.0088,-.0102,-.0129,-.0170,-.0195,-.0227,-.0243,-.0249,-.0248,-.0245,-.0242,-.0245,-.0249,-.0250,-.0254,-.0242,-.0222,-.0184,
    -.0165,-.0156,-.0145,-.0138,-.0124,-.0106,-.0097,-.0098,-.0102,-.0104,-.0103,-.0100,-.0109,-.0115,-.0120,-.0129,-.0120,-.0106,-.0097,-.0095,
    -.0098,-.0111,-.0124,-.0125,-.0138,-.0125,-.0120,-.0122,-.0165,-.0161,-.0159,-.0143,-.0106,-.0084,-.0052,-.0021,-.0004,.0011,.0045,.0059,
    .0061,.0062,.0055,.0020,.0002,.0000,-.0009,-.0016,.0000,-.0002,-.0012,.0000,.0027,.0056,.0086,.0089,
    .0092,.0093,.0087,.0086,.0087,.0095,.0086,.0063,.0050,.0053,.0082,.0143,.0216,.0279,.0332,.0357,.0358,.0354,.0352,.0340,
    .0332,.0317,.0292,.0264,.0229,.0189,.0158,.0141,.0126,.0118,.0119,.0143,.0168,.0183,.0195,.0206,.0212,.0254,.0307,.0355,
    .0403,.0426,.0411,.0405,.0417,.0407,.0388,.0363,.0332,.0298,.0283,.0258,.0239,.0216,.0195,.0176,.0158,.0126,.0082,.0034,
    .0008,-.0034,-.0061,-.0056,-.0048,-.0036,-.0023,-.0004,.0015,.0031,.0027,.0028,.0027,.0029,.0038,.0052,.0082,.0095,.0101,.0098,
    .0111,.0120,.0143,.0172,.0191,.0192,.0172,.0162,.0143,.0149,.0164,.0197,.0222,.0248,.0273,.0283,.0279,.0275,.0256,.0229,
    .0206,.0187,.0162,.0139,.0111,.0088,.0057,.0038,.0031,.0040,.0053,.0073,.0082,.0076,.0042,.0004,-.0074,-.0118,-.0141,-.0142,
    -.0124,-.0084,-.0055,-.0036,-.0023,-.0011,-.0005,.0006,.0023,.0027,.0023,.0019,.0017,.0015,.0011,.0006,.0011,.0013,.0025,.0029,
    .0033,.0029,.0034,.0040,.0050,.0069,.0076,.0082,.0076,.0082,.0103,.0111,.0112,.0111,.0098,.0086,.0061,.0048,.0034,.0017,
    .0013,.0011,.0023,.0015,.0006,-.0013,-.0042,-.0071,-.0095,-.0109,-.0105,-.0090,-.0073,-.0065,-.0052,-.0055,-.0065,-.0074,-.0075,-.0067,
    -.0065,-.0064,-.0067,-.0080,-.0099,-.0122,-.0130,-.0118,-.0099,
    -.0128,-.0118,-.0103,-.0084,-.0061,-.0038,-.0023,-.0006,.0002,.0003,-.0017,-.0036,-.0044,-.0050,-.0042,-.0029,-.0013,.0006,.0015,.0029,
    .0044,.0057,.0061,.0065,.0066,.0073,.0086,.0111,.0130,.0141,.0136,.0126,.0122,.0115,.0116,.0117,.0118,.0120,.0109,.0092,
    .0078,.0063,.0044,.0019,.0006,-.0010,-.0025,-.0040,-.0048,-.0052,-.0061,-.0057,-.0048,-.0036,.0000,.0048,.0092,.0134,.0168,.0189,
    .0180,.0145,.0115,.0082,.0057,.0063,.0076,.0088,.0096,.0111,.0105,.0086,.0073,.0052,.0031,.0015,.0006,-.0004,-.0003,.0002,
    -.0023,-.0057,-.0094,-.0124,-.0168,-.0197,-.0196,-.0195,-.0197,-.0205,-.0208,-.0224,-.0229,-.0220,-.0195,-.0172,-.0147,-.0124,-.0113,-.0109,
    -.0115,-.0118,-.0113,-.0103,-.0090,-.0071,-.0052,-.0038,-.0008,.0034,.0073,.0115,.0143,.0164,.0177,.0185,.0181,.0172,.0139,.0111,
    .0099,.0088,.0076,.0072,.0065,.0067,.0059,.0061,.0063,.0061,.0069,.0076,.0065,.0048,.0025,.0004,-.0013,-.0042,-.0061,-.0086,
    -.0090,-.0089,-.0084,-.0073,-.0063,-.0057,-.0053,-.0054,-.0050,-.0061,-.0074,-.0086,-.0095,-.0105,-.0104,-.0086,-.0076,-.0071,-.0080,-.0095,
    -.0115,-.0147,-.0168,-.0181,-.0183,-.0182,-.0172,-.0153,-.0138,-.0118,-.0111,-.0103,-.0094,-.0086,-.0080,-.0079,-.0073,-.0061,-.0052,-.0042,
    -.0034,-.0029,-.0033,-.0036,-.0042,-.0043,
]

sma_x = [1,10,21,28,36,50,65,79,90,102,114,121,130,145,155,167,173,178,192,205,216,227,244,251,260,271,285,301,315,332,346,359,368,377,389,401,410,420,430,440,451,457,471,485,493,511]
sma_y = [1.0835,1.0850,1.0859,1.0871,1.0876,1.0872,1.0871,1.0855,1.0837,1.0811,1.0777,1.0770,1.0752,1.0727,1.0727,1.0733,1.0741,1.0756,1.0788,1.0808,1.0822,1.0847,1.0900,1.0931,1.0957,1.1015,1.1105,1.1201,1.1288,1.1394,1.1473,1.1524,1.1564,1.1595,1.1621,1.1656,1.1670,1.1675,1.1677,1.1675,1.1675,1.1681,1.1680,1.1673,1.1654,1.1632]

rvwap30_x = [1,4,8,14,16,20,25,33,37,44,47,51,55,56,59,63,67,71,74,76,79,81,84,86,88,91,95,98,101,105,109,114,118,124,130,134,140,145,147,150,155,159,160,166,169,173,175,178,180,185,189,190,193,195,200,204,208,216,220,224,229,232,236,240,244,247,250,256,261,267,271,275,276,285,289,293,301,310,316,321,325,330,337,342,348,355,361,365,368,374,378,384,389,395,399,402,410,412,415,419,425,430,434,440,445,451,455,459,464,468,474,477,481,486,490,495,496,500,504,511]
rvwap30_y = [1.0890,1.0903,1.0935,1.1011,1.1031,1.1078,1.1101,1.1103,1.1110,1.1081,1.1065,1.1020,1.0966,1.0938,1.0888,1.0850,1.0811,1.0745,1.0715,1.0676,1.0641,1.0606,1.0580,1.0546,1.0533,1.0520,1.0496,1.0494,1.0473,1.0427,1.0367,1.0329,1.0342,1.0361,1.0367,1.0401,1.0410,1.0418,1.0469,1.0563,1.0658,1.0710,1.0745,1.0799,1.0894,1.0930,1.1011,1.1061,1.1096,1.1173,1.1219,1.1251,1.1297,1.1343,1.1306,1.1283,1.1277,1.1311,1.1394,1.1431,1.1506,1.1562,1.1607,1.1651,1.1666,1.1709,1.1716,1.1632,1.1616,1.1623,1.1607,1.1623,1.1649,1.1679,1.1705,1.1730,1.1750,1.1695,1.1658,1.1613,1.1599,1.1599,1.1566,1.1564,1.1595,1.1647,1.1709,1.1731,1.1733,1.1698,1.1697,1.1772,1.1790,1.1852,1.1867,1.1862,1.1747,1.1723,1.1658,1.1628,1.1569,1.1552,1.1564,1.1623,1.1666,1.1703,1.1737,1.1728,1.1698,1.1686,1.1657,1.1628,1.1599,1.1566,1.1515,1.1483,1.1469,1.1455,1.1427,1.1419]

rvwap90_x = [1,4,13,17,24,29,35,41,47,55,62,66,72,78,82,89,95,99,102,109,114,118,124,128,133,145,152,159,167,170,174,178,182,188,192,199,207,212,217,224,229,235,238,242,245,252,258,260,265,268,275,280,285,292,296,300,307,312,318,326,332,341,350,357,365,373,378,383,389,394,399,405,409,416,422,428,435,440,446,450,460,471,481,491,499,504,511]
rvwap90_y = [1.0835,1.0846,1.0888,1.0899,1.0926,1.0957,1.1002,1.1017,1.1020,1.1014,1.1020,1.0998,1.0948,1.0877,1.0846,1.0789,1.0723,1.0676,1.0628,1.0554,1.0516,1.0506,1.0452,1.0431,1.0420,1.0410,1.0456,1.0503,1.0533,1.0606,1.0710,1.0763,1.0828,1.0904,1.0957,1.1029,1.1096,1.1155,1.1205,1.1251,1.1297,1.1357,1.1422,1.1445,1.1450,1.1478,1.1501,1.1525,1.1553,1.1581,1.1609,1.1623,1.1647,1.1682,1.1680,1.1677,1.1670,1.1664,1.1677,1.1670,1.1667,1.1653,1.1649,1.1639,1.1632,1.1645,1.1647,1.1698,1.1712,1.1738,1.1754,1.1772,1.1757,1.1733,1.1703,1.1679,1.1684,1.1686,1.1676,1.1664,1.1649,1.1630,1.1640,1.1628,1.1609,1.1581,1.1548]

vwap_low_x = [109,114,118,121,124,128,132,137,144,148,153,159,167,171,174,178,182,185,193,201,208,217,220,224,232,243,252,262,275,286,291,300,310,319,327,339,350,354,369,379,384,391,401,412,425,440,460,481,511]
vwap_low_y = [1.0237,1.0291,1.0342,1.0372,1.0380,1.0365,1.0367,1.0384,1.0397,1.0444,1.0494,1.0524,1.0554,1.0619,1.0710,1.0736,1.0780,1.0802,1.0847,1.0873,1.0906,1.0939,1.0962,1.0975,1.1020,1.1056,1.1083,1.1112,1.1137,1.1162,1.1175,1.1196,1.1213,1.1224,1.1228,1.1242,1.1251,1.1260,1.1272,1.1282,1.1295,1.1306,1.1317,1.1331,1.1343,1.1357,1.1374,1.1385,1.1383]

rvwap365_x = [1,5,16,25,33,39,48,56,65,73,82,91,98,109,114,121,125,133,145,167,174,178,182,192,201,217,222,232,246,263,272,286,289,305,323,329,339,348,357,362,369,379,386,393,401,409,415,429,433,440,451,459,469,477,484,496,511]
rvwap365_y = [1.0793,1.0795,1.0805,1.0818,1.0835,1.0855,1.0871,1.0879,1.0884,1.0872,1.0855,1.0842,1.0822,1.0802,1.0777,1.0764,1.0752,1.0740,1.0720,1.0721,1.0753,1.0771,1.0791,1.0817,1.0833,1.0870,1.0888,1.0926,1.0959,1.1002,1.1018,1.1038,1.1047,1.1074,1.1112,1.1124,1.1160,1.1192,1.1228,1.1242,1.1273,1.1320,1.1371,1.1414,1.1450,1.1487,1.1510,1.1543,1.1581,1.1597,1.1611,1.1632,1.1657,1.1664,1.1669,1.1649,1.1640]

vwap_ath_x = [1,80,105,170,260,350,511]
vwap_ath_y = [1.1611,1.1595,1.1580,1.1571,1.1562,1.1562,1.1564]

vwap_high_x = [380,383,388,391,396,399,404,406,411,415,418,422,429,435,443,451,460,471,485,493,511]
vwap_high_y = [1.1971,1.1930,1.1894,1.1888,1.1886,1.1868,1.1857,1.1828,1.1780,1.1747,1.1723,1.1705,1.1679,1.1678,1.1680,1.1682,1.1690,1.1680,1.1670,1.1647,1.1624]

vwap_month_x = [493,495,498,502,506,511]
vwap_month_y = [1.1408,1.1416,1.1419,1.1422,1.1422,1.1417]

# horizontal levels, their first bar, label on the price scale and how far it was pushed
levels = [1.2088,1.2055,1.1928,1.1844,1.1738,1.1585,1.1568,1.1468,1.1383,1.1285,1.1238,1.1031,1.0639,1.0477,1.0169]
level_starts = [380,1,288,230,363,180,180,322,250,1,1,1,1,1,109]
level_box_shift = [4,-1,-1,0,0,9,-1,0,-23,-3,-2,-1,-1,-1,-1]

note_levels = [1.2088,1.2055,1.1928,1.1844,1.1738,1.1585,1.1468,1.1383,1.1285,1.1031,1.0639,1.0169]
note_texts = ["Resistance","2026 High","2025 High","Reclaimed Resistance","2026 Open","Support > Resistance",
              "Support > Resistance?","Support","Resistance > Support","Resistance > Support","Reclaimed Support","2025 Low"]
note_shift = [-4,2,-8,-8,-9,2,8,-9,-8,-9,-8,-9]

trend_x = [[380,541],[1,541],[250,511]]
trend_y = [[1.2093,1.1484],[1.2073,1.1925],[1.1380,1.1730]]

price_ticks = [1.22,1.20,1.19,1.18,1.17,1.15,1.12,1.11,1.10,1.09,1.08,1.07,1.06,1.052,1.044,1.036,1.028,1.02,1.013,1.006]
rsi_ticks = [80,70,60,50,40,30,20]
ao_ticks = [0.04,0.02,0.0,-0.02]
ao_tick_text = ["0.0400","0.0200","0.0000","\u22120.0200"]
time_ticks = [15,36,60,81,102,124,145,166,188,210,232,254,276,298,321,342,363,386,406,427,449,472,493,516,537]
time_labels = ["Sep","Oct","Nov","Dec","<b>2025</b>","Feb","Mar","Apr","May","Jun","Jul","Aug","Sep","Oct","Nov","Dec",
               "<b>2026</b>","Feb","Mar","Apr","May","Jun","Jul","Aug","Sep"]

GRN = "#4b9c7f"
def c(txt, col):
    return f'<span style="color:{col}">{txt}</span>'
nulls6 = "  Ø   Ø   Ø   Ø   Ø   Ø"
legend_lines = [
    "Euro / U.S. Dollar · 1D · FXCM  O" + c("1.1389", GRN) + "  H" + c("1.1418", GRN) + "  L" + c("1.1387", GRN) + "  C" + c("1.1401", GRN) + "  " + c("+0.0032 (+0.28%)", GRN),
    "Vol  " + c("61.55 K", "#1f8a7d"),
    "SMA (200, close)  " + c("1.1632", "#f5e04f"),
    "VWAP AA (Month, ohlc4, 200, Standard Deviation, 1, 2, 3)  " + c("1.1417", "#5fd0dc") + nulls6,
    "VWAP AA (Highest High, ohlc4, 9,999, Standard Deviation, 1, 2, 3)  " + c("1.1564", "#43a047") + nulls6,
    "RVWAP (hlc3, 30, 0, 0, small, bottom, left, 0, 0, 0, 10)  " + c("1.1419", "#e08a0c") + nulls6,
    "RVWAP (hlc3, 365, 0, 0, small, bottom, left, 0, 0, 0, 10)  " + c("1.1640", "#e0a8b8") + nulls6,
    "RVWAP (hlc3, 90, 0, 0, small, bottom, left, 0, 0, 0, 10)  " + c("1.1548", "#a48ccb") + nulls6,
    "VWAP AA (Highest High, ohlc4, 200, Standard Deviation, 1, 2, 3)  " + c("1.1624", "#43a047") + nulls6,
    "VWAP AA (Lowest Low, ohlc4, 500, Standard Deviation, 1, 2, 3)  " + c("1.1383", "#c8c8c8") + nulls6,
]
pane_titles = [
    (901, "RSI (14, close)   " + c("44.53", "#ffffff") + "   Ø   Ø   Ø   Ø"),
    (1123, "AO   " + c("\u22120.0043", "#f0483e")),
    (1292, "Distance to MA (200, close, 20)   " + c("\u22121.9841", "#2962ff") + "   " + c("\u22121.9736", "#43a047")),
    (1326, "Coinbase vs Binance USDT Bitcoin Spot Premium   " + c("\u221257.7500", "#f0483e")),
]


def px(x):
    return x / W


def py(y):
    return 1 - y / H


FONT = "Roboto"
TEXT = "#c4c4c4"
first_bar = 512 - len(closes)
bars = list(range(first_bar, 512))
last_x = 541.8

fig = go.Figure()

# volume sits on the base axis so the price pane draws over it
vol_x = list(range(512 - len(volume), 512))
up_by_bar = {b: cl >= op for b, op, cl in zip(bars, opens, closes)}
fig.add_trace(go.Bar(x=vol_x, y=volume, width=0.78, yaxis="y",
                     marker=dict(color=["#185a52" if up_by_bar.get(b, True) else "#7b2f2f" for b in vol_x], line_width=0)))

for lvl, start in zip(levels, level_starts):
    fig.add_trace(go.Scatter(x=[start, 541.2], y=[lvl, lvl], mode="lines", yaxis="y2",
                             line=dict(color="#ffffff", width=1.2, dash="1.2px,3px")))
fig.add_trace(go.Scatter(x=[0, 541.8], y=[1.1401, 1.1401], mode="lines", yaxis="y2",
                         line=dict(color="#6d6d6d", width=1, dash="1px,2px")))
for tx, ty in zip(trend_x, trend_y):
    fig.add_trace(go.Scatter(x=tx, y=ty, mode="lines", yaxis="y2",
                             line=dict(color="#b4b4b4", width=1.5, dash="1.5px,2.5px")))

# wicks are dimmer than the bodies, so they get their own traces
for want_up, col in ((True, "#2f7a60"), (False, "#8c3040")):
    wx, wy = [], []
    for b, op, hi, lo, cl in zip(bars, opens, highs, lows, closes):
        if (cl >= op) == want_up:
            wx += [b, b, None]
            wy += [max(hi, op, cl), min(lo, op, cl), None]
    fig.add_trace(go.Scatter(x=wx, y=wy, mode="lines", yaxis="y2", line=dict(color=col, width=1)))

fig.add_trace(go.Candlestick(
    x=bars, open=opens, close=closes,
    high=[max(o, k) for o, k in zip(opens, closes)],
    low=[min(o, k) for o, k in zip(opens, closes)],
    yaxis="y2", whiskerwidth=0,
    increasing=dict(line=dict(color="#58c49c", width=1), fillcolor="#070707"),
    decreasing=dict(line=dict(color="#f2405e", width=1), fillcolor="#f2405e"),
))

for lx, ly, col, wid in (
    (rvwap365_x, rvwap365_y, "#d9a9b9", 1.6),
    (vwap_low_x, vwap_low_y, "#b9b9b9", 1.6),
    (rvwap90_x, rvwap90_y, "#9c86c0", 1.5),
    (rvwap30_x, rvwap30_y, "#d98400", 1.5),
    (vwap_ath_x, vwap_ath_y, "#4caf50", 2.6),
    (vwap_high_x, vwap_high_y, "#4caf50", 2.6),
    (sma_x, sma_y, "#f7e34c", 3),
    (vwap_month_x, vwap_month_y, "#5fd6e2", 3),
):
    fig.add_trace(go.Scatter(x=lx, y=ly, mode="lines", yaxis="y2", line=dict(color=col, width=wid)))

# RSI pane
for lvl in (70, 50, 30):
    fig.add_trace(go.Scatter(x=[0, last_x], y=[lvl, lvl], mode="lines", yaxis="y3",
                             line=dict(color="#6f7078", width=1, dash="5px,4px")))
fig.add_trace(go.Scatter(x=list(range(512 - len(rsi), 512)), y=rsi, mode="lines", yaxis="y3",
                         line=dict(color="#ffffff", width=2)))

# AO pane
ao_x = list(range(512 - len(ao), 512))
ao_col = ["#089981" if (i == 0 or v >= ao[i - 1]) else "#f6402f" for i, v in enumerate(ao)]
fig.add_trace(go.Bar(x=ao_x, y=ao, width=0.84, yaxis="y4", marker=dict(color=ao_col, line_width=0)))

notes = []
for lvl, shift in zip(levels, level_box_shift):
    notes.append(dict(xref="paper", yref="y2", x=px(2718), y=math.log10(lvl), yshift=shift, xanchor="left",
                      text=f"{lvl:.4f}", showarrow=False, bgcolor="#ffffff", width=45, height=16, borderpad=0,
                      font=dict(family=FONT, size=11, color="#232323")))
for lvl, txt, shift in zip(note_levels, note_texts, note_shift):
    notes.append(dict(xref="x", yref="y2", x=540.6, y=math.log10(lvl), yshift=shift, xanchor="right",
                      text=f"<b>{txt}</b>", showarrow=False, font=dict(family=FONT, size=10, color="#dcdcdc")))
notes.append(dict(xref="paper", yref="y2", x=px(2718), y=math.log10(1.1401), yshift=-5, xanchor="left",
                  text="<b>1.1401</b><br>11:59:22", showarrow=False, bgcolor="#434651", width=55, height=30,
                  borderpad=0, font=dict(family=FONT, size=11, color="#e8e8e8")))
for n, line in enumerate(legend_lines):
    notes.append(dict(xref="paper", yref="paper", x=px(18), y=py(42 + 17 * n), xanchor="left", yanchor="middle",
                      text=line, showarrow=False, font=dict(family=FONT, size=12, color=TEXT)))
for y_px, line in pane_titles:
    notes.append(dict(xref="paper", yref="paper", x=px(18), y=py(y_px), xanchor="left", yanchor="middle",
                      text=line, showarrow=False, font=dict(family=FONT, size=12, color=TEXT)))
notes.append(dict(xref="paper", yref="paper", x=px(10), y=py(14), xanchor="left", yanchor="middle", showarrow=False,
                  text="cointradernik created with TradingView.com, Jul 27, 2026 10:00 UTC+1",
                  font=dict(family=FONT, size=12.2, color="#d0d0d0")))
notes.append(dict(xref="paper", yref="paper", x=px(48), y=py(1403), xanchor="left", yanchor="middle", showarrow=False,
                  text="<b>TradingView</b>", font=dict(family=FONT, size=22, color="#dedede")))
notes.append(dict(xref="paper", yref="paper", x=px(2751), y=py(45), xanchor="center", yanchor="middle", showarrow=False,
                  text="USD", font=dict(family=FONT, size=12, color="#c4c4c4")))
notes.append(dict(xref="paper", yref="paper", x=px(34), y=py(866), xanchor="center", yanchor="middle", showarrow=False,
                  text="3DD", width=29, height=17, bgcolor="#5f8d91", borderpad=0,
                  font=dict(family=FONT, size=10, color="#d8e6e6")))


def rect(x0, y0, x1, y1, **kw):
    return dict(type="rect", xref="paper", yref="paper", x0=px(x0), x1=px(x1), y0=py(y0), y1=py(y1), **kw)


def hline(y, x0, x1, col):
    return dict(type="line", xref="paper", yref="paper", x0=px(x0), x1=px(x1), y0=py(y), y1=py(y),
                line=dict(color=col, width=1))


def poly(points, col):
    d = "M" + " L".join(f"{px(a):.5f},{py(b):.5f}" for a, b in points) + " Z"
    return dict(type="path", xref="paper", yref="paper", path=d, fillcolor=col, line_width=0)


shapes = [
    rect(8, 27, 2785, 1372, fillcolor="#070707", line=dict(color="#2f2f2f", width=2), layer="below"),
    dict(type="rect", xref="x", yref="y3", x0=0, x1=last_x, y0=30, y1=70, fillcolor="#13111c", line_width=0, layer="below"),
    hline(886, 8, 2785, "#2a2d38"),
    hline(1107, 8, 2785, "#2a2d38"),
    hline(1276, 8, 2785, "#2a2d38"),
    hline(1310, 8, 2785, "#2a2d38"),
    hline(1344.5, 8, 2785, "#f4f4f4"),
    dict(type="line", xref="paper", yref="paper", x0=px(2717), x1=px(2717), y0=py(27), y1=py(1372),
         line=dict(color="#f4f4f4", width=1)),
    rect(2721, 31, 2781, 58, line=dict(color="#2c2c2c", width=1.5), fillcolor="#0b0b0b"),
    poly([(12, 1394), (27, 1394), (27, 1410), (20, 1410), (20, 1401), (12, 1401)], "#dedede"),
    poly([(35, 1394), (42, 1394), (36, 1410), (28, 1410)], "#dedede"),
    dict(type="circle", xref="paper", yref="paper", x0=px(28), x1=px(34.5), y0=py(1394), y1=py(1400.5),
         fillcolor="#dedede", line_width=0),
]

axis_font = dict(family=FONT, size=11, color=TEXT)
hidden_tick = dict(ticks="outside", ticklen=8, tickcolor="rgba(0,0,0,0)", showgrid=False, zeroline=False, showline=False)

fig.update_layout(
    width=W, height=H, margin=dict(l=0, r=0, t=0, b=0), autosize=False,
    paper_bgcolor="#1e1e1e", plot_bgcolor="rgba(0,0,0,0)",
    showlegend=False, hovermode=False, bargap=0, boxgap=0.38, dragmode=False,
    annotations=notes, shapes=shapes,
    xaxis=dict(domain=[px(8), px(2717)], range=[0, last_x], anchor="free", position=py(1344.5), side="bottom",
               tickmode="array", tickvals=time_ticks, ticktext=time_labels, tickfont=axis_font,
               rangeslider=dict(visible=False), ticks="outside", ticklen=6, tickcolor="rgba(0,0,0,0)",
               showgrid=False, zeroline=False, showline=False),
    yaxis=dict(domain=[py(886), py(27)], range=[0, 3780], visible=False, fixedrange=True),
    yaxis2=dict(domain=[py(886), py(27)], overlaying="y", type="log", side="right", anchor="x",
                range=[math.log10(1.0007), math.log10(1.2338)], tickmode="array", tickvals=price_ticks,
                ticktext=[f"{v:.4f}" for v in price_ticks], tickfont=axis_font, **hidden_tick),
    yaxis3=dict(domain=[py(1107), py(886)], side="right", anchor="x", range=[18.15, 83.6], tickmode="array",
                tickvals=rsi_ticks, ticktext=[f"{v:.2f}" for v in rsi_ticks], tickfont=axis_font, **hidden_tick),
    yaxis4=dict(domain=[py(1276), py(1107)], side="right", anchor="x", range=[-0.0319, 0.0511], tickmode="array",
                tickvals=ao_ticks, ticktext=ao_tick_text, tickfont=axis_font, **hidden_tick),
)

fig.write_html("out.html", config=dict(displayModeBar=False),
               post_script="document.body.style.margin='0';document.body.style.overflow='hidden';document.body.style.background='#1e1e1e';")
